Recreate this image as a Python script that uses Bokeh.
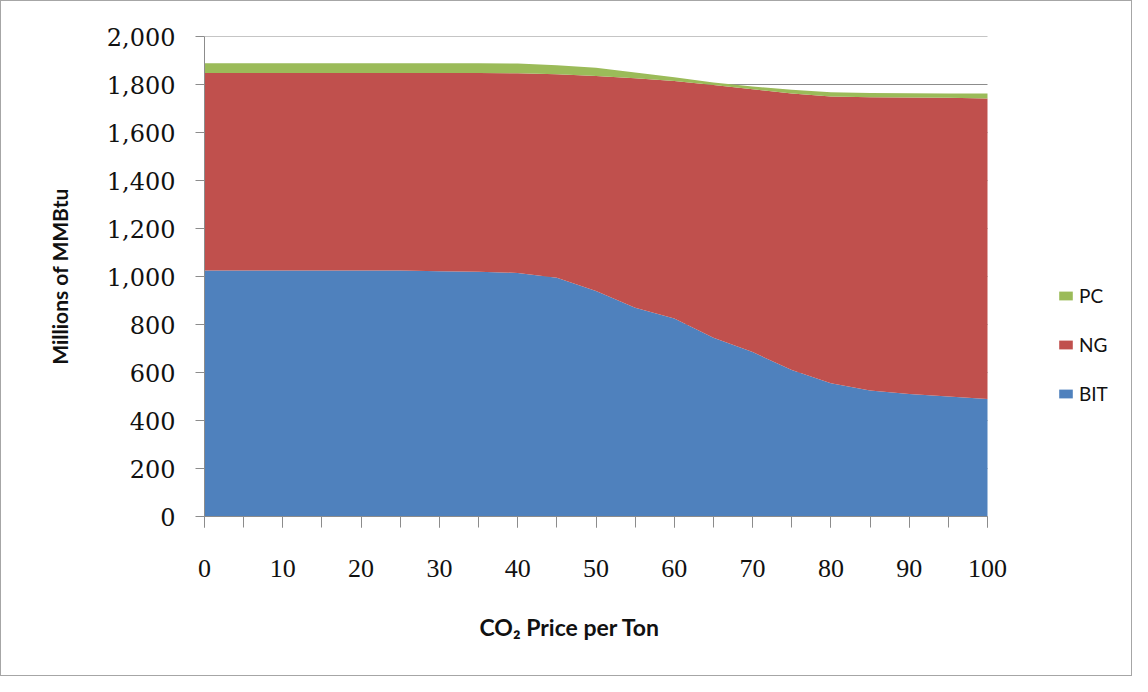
from bokeh.plotting import figure
from bokeh.models import ColumnDataSource, Range1d, FixedTicker, NumeralTickFormatter, Legend, LegendItem, Title
from bokeh.embed import file_html
from bokeh.resources import INLINE

# ---- data ----
co2_price = [0, 5, 10, 15, 20, 25, 30, 35, 40, 45, 50, 55, 60, 65, 70, 75, 80, 85, 90, 95, 100]
bit = [1025, 1025, 1025, 1025, 1025, 1025, 1022, 1020, 1015, 995, 940, 870, 825, 745, 685, 610, 555, 525, 510, 500, 490]
ng_top = [1848, 1848, 1848, 1848, 1848, 1848, 1848, 1848, 1847, 1843, 1835, 1826, 1815, 1798, 1780, 1762, 1750, 1747, 1746, 1745, 1742]
pc_top = [1889, 1889, 1889, 1889, 1889, 1889, 1889, 1889, 1887, 1880, 1870, 1850, 1830, 1808, 1792, 1778, 1768, 1765, 1764, 1763, 1762]
ng = [t - b for t, b in zip(ng_top, bit)]
pc = [t - n for t, n in zip(pc_top, ng_top)]
series_names = ["BIT", "NG", "PC"]
series_colors = ["#4F81BD", "#C0504D", "#9BBB59"]
x_ticks = [0, 10, 20, 30, 40, 50, 60, 70, 80, 90, 100]
x_minor = list(range(0, 101, 5))
y_ticks = list(range(0, 2001, 200))
x_title = "CO\u2082 Price per Ton"
y_title = "Millions of MMBtu"

# layout (pixels)
AXIS_W = 783          # width of the 0..100 data span
FRAME_W = 926         # frame also holds the legend area on the right
X_MIN, X_MAX = 0, 100
x_end = X_MAX * FRAME_W / AXIS_W

source = ColumnDataSource(dict(x=co2_price, BIT=bit, NG=ng, PC=pc))
grid_src = ColumnDataSource(dict(y=y_ticks,
                                 x0=[X_MIN] * len(y_ticks),
                                 x1=[X_MAX] * len(y_ticks)))

p = figure(output_backend="svg", toolbar_location=None,
           frame_width=FRAME_W, frame_height=480,
           min_border_left=203, min_border_right=1,
           min_border_top=35, min_border_bottom=159,
           x_range=Range1d(0, x_end), y_range=Range1d(0, 2000))
p.styles = {"border": "1px solid #a6a6a6"}
p.outline_line_color = None
p.background_fill_color = "white"
p.border_fill_color = "white"

# horizontal gridlines limited to the 0..100 span, drawn beneath the areas
p.segment(x0="x0", x1="x1", y0="y", y1="y", source=grid_src,
          line_color="#8c8c8c", line_width=1, level="underlay")

rs = p.varea_stack(series_names, x="x", color=series_colors, source=source)

p.xgrid.visible = False
p.ygrid.visible = False

# x axis
xa = p.xaxis[0]
xa.bounds = (X_MIN, X_MAX)
xa.ticker = FixedTicker(ticks=x_ticks, minor_ticks=x_minor)
xa.axis_line_color = "#8c8c8c"
xa.major_tick_line_color = "#8c8c8c"
xa.minor_tick_line_color = "#8c8c8c"
xa.major_tick_out = 11
xa.major_tick_in = 0
xa.minor_tick_out = 11
xa.minor_tick_in = 0
xa.major_label_standoff = 32
xa.major_label_text_font = "Liberation Serif"
xa.major_label_text_font_size = "26px"
xa.major_label_text_color = "#111111"

xt = Title(text=x_title, align="left", offset=275, standoff=62,
           text_font="Lato", text_font_style="bold", text_font_size="23px",
           text_color="#111111")
p.add_layout(xt, "below")

# y axis
ya = p.yaxis[0]
ya.ticker = FixedTicker(ticks=y_ticks)
ya.formatter = NumeralTickFormatter(format="0,0")
ya.axis_line_color = "#8c8c8c"
ya.major_tick_line_color = "#8c8c8c"
ya.minor_tick_line_color = None
ya.major_tick_out = 9
ya.major_tick_in = 0
ya.major_label_standoff = 20
ya.major_label_text_font = "DejaVu Serif"
ya.major_label_text_font_size = "24px"
ya.major_label_text_color = "#111111"
ya.axis_label = y_title
ya.axis_label_text_font = "Lato"
ya.axis_label_text_font_style = "bold"
ya.axis_label_text_font_size = "21px"
ya.axis_label_text_color = "#111111"
ya.axis_label_standoff = 32

legend = Legend(items=[LegendItem(label="PC", renderers=[rs[2]]),
                       LegendItem(label="NG", renderers=[rs[1]]),
                       LegendItem(label="BIT", renderers=[rs[0]])],
                location=(AXIS_W + 70, 111))
legend.border_line_color = None
legend.background_fill_alpha = 0
legend.margin = 0
legend.padding = 0
legend.glyph_width = 17
legend.glyph_height = 11
legend.label_height = 20
legend.spacing = 26
legend.label_standoff = 5
legend.label_text_font = "Lato"
legend.label_text_font_size = "19px"
legend.label_text_color = "#111111"
p.add_layout(legend, "center")

open("out.html", "w").write(file_html(p, INLINE))
